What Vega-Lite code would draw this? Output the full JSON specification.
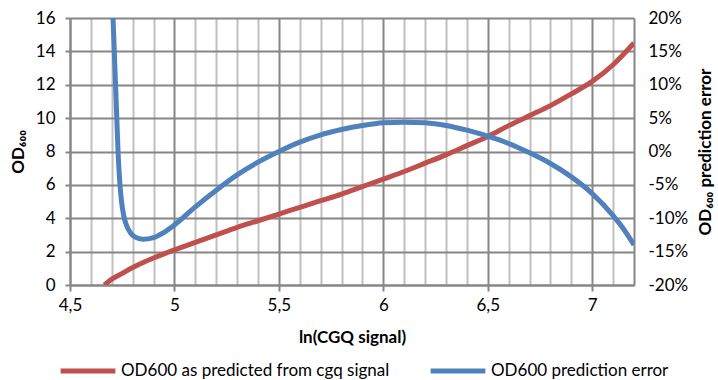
{
  "$schema": "https://vega.github.io/schema/vega-lite/v6.json",
  "width": 564,
  "height": 267,
  "autosize": {"type": "none"},
  "padding": {"left": 70, "top": 18, "right": 84, "bottom": 95},
  "config": {"font": "Lato", "view": {"stroke": null}},
  "datasets": {
    "od": [
      {"x": 4.665, "od": 0}, {"x": 4.7, "od": 0.35}, {"x": 4.75, "od": 0.7}, {"x": 4.8, "od": 1.05},
      {"x": 4.85, "od": 1.35}, {"x": 4.9, "od": 1.62}, {"x": 4.95, "od": 1.87}, {"x": 5.0, "od": 2.1},
      {"x": 5.1, "od": 2.55}, {"x": 5.2, "od": 3.0}, {"x": 5.3, "od": 3.45}, {"x": 5.4, "od": 3.85},
      {"x": 5.5, "od": 4.25}, {"x": 5.6, "od": 4.65}, {"x": 5.7, "od": 5.05}, {"x": 5.8, "od": 5.45},
      {"x": 5.9, "od": 5.9}, {"x": 6.0, "od": 6.35}, {"x": 6.1, "od": 6.8}, {"x": 6.2, "od": 7.3},
      {"x": 6.3, "od": 7.8}, {"x": 6.4, "od": 8.35}, {"x": 6.5, "od": 8.9}, {"x": 6.6, "od": 9.55},
      {"x": 6.7, "od": 10.15}, {"x": 6.8, "od": 10.75}, {"x": 6.9, "od": 11.45}, {"x": 7.0, "od": 12.2},
      {"x": 7.1, "od": 13.2}, {"x": 7.2, "od": 14.5}
    ],
    "err": [
      {"x": 4.706, "err": 20}, {"x": 4.712, "err": 15}, {"x": 4.718, "err": 10}, {"x": 4.724, "err": 5},
      {"x": 4.73, "err": 0}, {"x": 4.737, "err": -4}, {"x": 4.746, "err": -7.3}, {"x": 4.757, "err": -9.6},
      {"x": 4.771, "err": -11.1}, {"x": 4.788, "err": -12.1}, {"x": 4.81, "err": -12.8}, {"x": 4.85, "err": -13.15},
      {"x": 4.9, "err": -12.9}, {"x": 4.95, "err": -12.1}, {"x": 5.0, "err": -11.0}, {"x": 5.1, "err": -8.3},
      {"x": 5.2, "err": -5.8}, {"x": 5.3, "err": -3.5}, {"x": 5.4, "err": -1.6}, {"x": 5.5, "err": 0},
      {"x": 5.6, "err": 1.4}, {"x": 5.7, "err": 2.5}, {"x": 5.8, "err": 3.3}, {"x": 5.9, "err": 3.9},
      {"x": 6.0, "err": 4.3}, {"x": 6.1, "err": 4.4}, {"x": 6.2, "err": 4.3}, {"x": 6.3, "err": 3.9},
      {"x": 6.4, "err": 3.2}, {"x": 6.5, "err": 2.3}, {"x": 6.6, "err": 1.2}, {"x": 6.7, "err": -0.2},
      {"x": 6.8, "err": -1.8}, {"x": 6.9, "err": -3.8}, {"x": 7.0, "err": -6.3}, {"x": 7.1, "err": -9.6},
      {"x": 7.15, "err": -11.6}, {"x": 7.2, "err": -14}
    ]
  },
  "layer": [
    {
      "data": {"name": "od"},
      "mark": {"type": "line", "strokeWidth": 5, "interpolate": "monotone", "clip": true},
      "encoding": {
        "x": {
          "field": "x", "type": "quantitative",
          "scale": {"domain": [4.5, 7.2], "nice": false, "zero": false},
          "axis": {
            "values": [4.5, 4.6, 4.7, 4.8, 4.9, 5, 5.1, 5.2, 5.3, 5.4, 5.5, 5.6, 5.7, 5.8, 5.9, 6, 6.1, 6.2, 6.3, 6.4, 6.5, 6.6, 6.7, 6.8, 6.9, 7, 7.1, 7.2],
            "tickCount": 40,
            "grid": true,
            "gridColor": {"condition": {"test": "indexof(['4.5','5.0','5.5','6.0','6.5','7.0','7.2'], format(datum.value, '.1f')) >= 0", "value": "#868686"}, "value": "#c0c0c0"},
            "gridWidth": 2,
            "tickColor": {"condition": {"test": "indexof(['4.5','5.0','5.5','6.0','6.5','7.0'], format(datum.value, '.1f')) >= 0", "value": "#868686"}, "value": "rgba(0,0,0,0)"},
            "tickSize": 6, "tickWidth": 2,
            "domainColor": "#868686", "domainWidth": 2,
            "labelExpr": "indexof(['4.5','5.0','5.5','6.0','6.5','7.0'], format(datum.value, '.1f')) >= 0 ? replace(replace(format(datum.value, '.1f'), '.0', ''), '.', ',') : ''",
            "labelFontSize": 17, "labelColor": "black", "labelPadding": 6,
            "labelOverlap": false, "labelFlush": false,
            "title": "ln(CGQ signal)", "titleFontSize": 17, "titleFontWeight": "bold",
            "titleColor": "black", "titlePadding": 16
          }
        },
        "y": {
          "field": "od", "type": "quantitative",
          "scale": {"domain": [0, 16], "nice": false},
          "axis": {
            "values": [0, 2, 4, 6, 8, 10, 12, 14, 16],
            "tickCount": 20,
            "grid": true, "gridColor": "#868686", "gridWidth": 2,
            "domainColor": "#868686", "domainWidth": 2,
            "tickColor": "#868686", "tickWidth": 2, "tickSize": 5,
            "labelFontSize": 17, "labelColor": "black", "labelPadding": 10,
            "title": "OD₆₀₀", "titleFontSize": 17, "titleFontWeight": "bold",
            "titleColor": "black", "titlePadding": 8
          }
        },
        "color": {
          "datum": "OD600 as predicted from cgq signal", "type": "nominal",
          "scale": {"domain": ["OD600 as predicted from cgq signal", "OD600 prediction error"], "range": ["#C0504D", "#4F81BD"]},
          "legend": {
            "orient": "none", "legendX": -12, "legendY": 323, "padding": 0,
            "direction": "horizontal", "title": null,
            "symbolType": "stroke", "symbolSize": 3000, "symbolStrokeWidth": 5,
            "labelFontSize": 17, "labelColor": "black", "labelOffset": 3,
            "labelLimit": 400, "columnPadding": 30
          }
        }
      }
    },
    {
      "data": {"name": "err"},
      "mark": {"type": "line", "strokeWidth": 5, "interpolate": "monotone", "clip": true},
      "encoding": {
        "x": {"field": "x", "type": "quantitative"},
        "y": {
          "field": "err", "type": "quantitative",
          "scale": {"domain": [-20, 20], "nice": false},
          "axis": {
            "orient": "right",
            "values": [-20, -15, -10, -5, 0, 5, 10, 15, 20],
            "tickCount": 20,
            "grid": false, "ticks": false, "domain": false,
            "labelExpr": "datum.value + '%'",
            "labelFontSize": 17, "labelColor": "black", "labelPadding": 14,
            "title": "OD₆₀₀ prediction error", "titleFontSize": 17, "titleFontWeight": "bold",
            "titleColor": "black", "titleAngle": 270, "titleBaseline": "top", "titlePadding": 10
          }
        },
        "color": {"datum": "OD600 prediction error", "type": "nominal"}
      }
    }
  ],
  "resolve": {"scale": {"y": "independent"}}
}
